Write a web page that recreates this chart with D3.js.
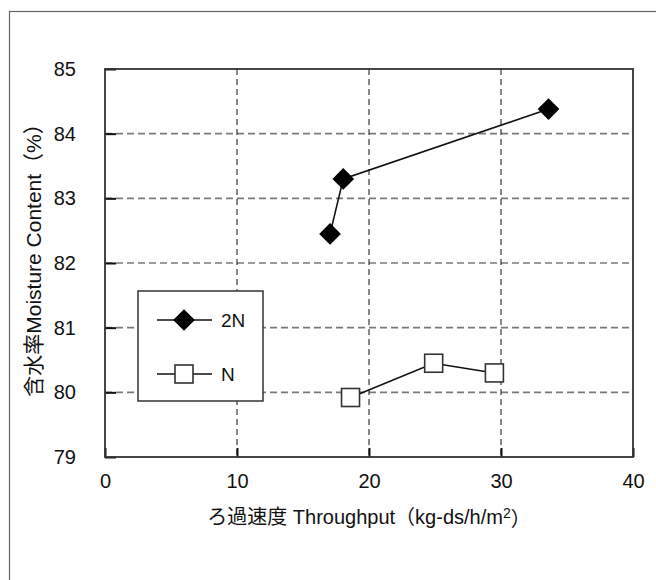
<!DOCTYPE html>
<html>
<head>
<meta charset="utf-8">
<script src="https://cdn.jsdelivr.net/npm/d3@7"></script>
<style>
  body { margin: 0; background: #fff; }
  svg text { font-family: "Liberation Sans", Arial, "Noto Sans CJK JP", sans-serif; fill: #111; }
</style>
</head>
<body>
<div id="chart"></div>
<script>
// data
const seriesNames = ["2N", "N"];
const x2N = [17.05, 18.05, 33.6];
const y2N = [82.45, 83.3, 84.38];
const xN = [18.6, 24.9, 29.5];
const yN = [79.92, 80.45, 80.3];
const xTicks = [0, 10, 20, 30, 40];
const yTicks = [79, 80, 81, 82, 83, 84, 85];

const W = 656, H = 580;
const margin = {top: 69, right: 23, bottom: 123, left: 105};
const width = W - margin.left - margin.right;
const height = H - margin.top - margin.bottom;

const svg = d3.select("#chart").append("svg")
  .attr("width", W).attr("height", H);

// outer frame (runs off the right and bottom edges)
svg.append("rect")
  .attr("x", 9.5).attr("y", 11.5)
  .attr("width", 800).attr("height", 800)
  .attr("fill", "none").attr("stroke", "#666").attr("stroke-width", 1.2);

const g = svg.append("g")
  .attr("transform", "translate(" + margin.left + "," + margin.top + ")");

const x = d3.scaleLinear().domain([0, 40]).range([0, width]);
const y = d3.scaleLinear().domain([79, 85]).range([height, 0]);

// grid
g.append("g").selectAll("line")
  .data(yTicks.filter(d => d > 79 && d < 85))
  .join("line")
    .attr("x1", 0).attr("x2", width)
    .attr("y1", d => y(d)).attr("y2", d => y(d))
    .attr("stroke", "#7a7a7a").attr("stroke-width", 1.6)
    .attr("stroke-dasharray", "7,4");

g.append("g").selectAll("line")
  .data(xTicks.filter(d => d > 0 && d < 40))
  .join("line")
    .attr("x1", d => x(d)).attr("x2", d => x(d))
    .attr("y1", 0).attr("y2", height)
    .attr("stroke", "#111").attr("stroke-width", 1)
    .attr("stroke-dasharray", "6,4");

// axes
const xAxis = g.append("g")
  .attr("transform", "translate(0," + height + ")")
  .call(d3.axisBottom(x).tickValues(xTicks).tickFormat(d3.format("d"))
    .tickSizeInner(-9).tickSizeOuter(0).tickPadding(17));
const yAxis = g.append("g")
  .call(d3.axisLeft(y).tickValues(yTicks).tickFormat(d3.format("d"))
    .tickSizeInner(-11).tickSizeOuter(0).tickPadding(29));

[xAxis, yAxis].forEach(a => {
  a.select(".domain").remove();
  a.selectAll(".tick line").attr("stroke", "#111").attr("stroke-width", 2);
  a.selectAll(".tick text")
    .style("font-family", "'Liberation Sans', Arial, sans-serif")
    .style("font-size", "20px").attr("fill", "#111");
});
xAxis.selectAll(".tick text").attr("dy", "0.71em");

// plot frame
g.append("rect")
  .attr("width", width).attr("height", height)
  .attr("fill", "none").attr("stroke", "#333").attr("stroke-width", 1.8);

const pts2N = x2N.map((v, i) => [v, y2N[i]]);
const ptsN = xN.map((v, i) => [v, yN[i]]);
const line = d3.line().x(d => x(d[0])).y(d => y(d[1]));

const diamond = d3.symbol().type(d3.symbolDiamond2).size(300);

function drawSeries(pts, kind) {
  g.append("path").datum(pts)
    .attr("d", line).attr("fill", "none")
    .attr("stroke", "#111").attr("stroke-width", 1.6);
  if (kind === "diamond") {
    g.append("g").selectAll("path").data(pts).join("path")
      .attr("transform", d => "translate(" + x(d[0]) + "," + y(d[1]) + ")")
      .attr("d", diamond).attr("fill", "#000");
  } else {
    g.append("g").selectAll("rect").data(pts).join("rect")
      .attr("x", d => x(d[0]) - 9).attr("y", d => y(d[1]) - 9)
      .attr("width", 18).attr("height", 18)
      .attr("fill", "#fff").attr("stroke", "#333").attr("stroke-width", 1.6);
  }
}
drawSeries(ptsN, "square");
drawSeries(pts2N, "diamond");

// legend
const lg = svg.append("g").attr("transform", "translate(138,291)");
lg.append("rect").attr("width", 125).attr("height", 110)
  .attr("fill", "#fff").attr("stroke", "#333").attr("stroke-width", 1.5);
seriesNames.forEach((name, i) => {
  const ly = 29 + i * 54;
  lg.append("line").attr("x1", 19).attr("x2", 74).attr("y1", ly).attr("y2", ly)
    .attr("stroke", "#111").attr("stroke-width", 1.6);
  if (i === 0) {
    lg.append("path").attr("transform", "translate(46," + ly + ")")
      .attr("d", diamond).attr("fill", "#000");
  } else {
    lg.append("rect").attr("x", 37).attr("y", ly - 9).attr("width", 18).attr("height", 18)
      .attr("fill", "#fff").attr("stroke", "#333").attr("stroke-width", 1.6);
  }
  lg.append("text").attr("x", 83).attr("y", ly).attr("dy", "0.35em")
    .style("font-size", "19px").text(name);
});

// axis titles
const xt = svg.append("text")
  .attr("x", margin.left + width / 2).attr("y", 517).attr("dy", "0.35em")
  .attr("text-anchor", "middle").style("font-size", "20px");
xt.append("tspan").text("ろ過速度 Throughput（kg-ds/h/m");
xt.append("tspan").attr("dy", "-0.4em").style("font-size", "14px").text("2");
xt.append("tspan").attr("dy", "0.4em").text("）");

svg.append("text")
  .attr("transform", "translate(34,255) rotate(-90)")
  .attr("dy", "0.35em").attr("text-anchor", "middle")
  .style("font-size", "21px")
  .text("含水率Moisture Content（%）");
</script>
</body>
</html>
